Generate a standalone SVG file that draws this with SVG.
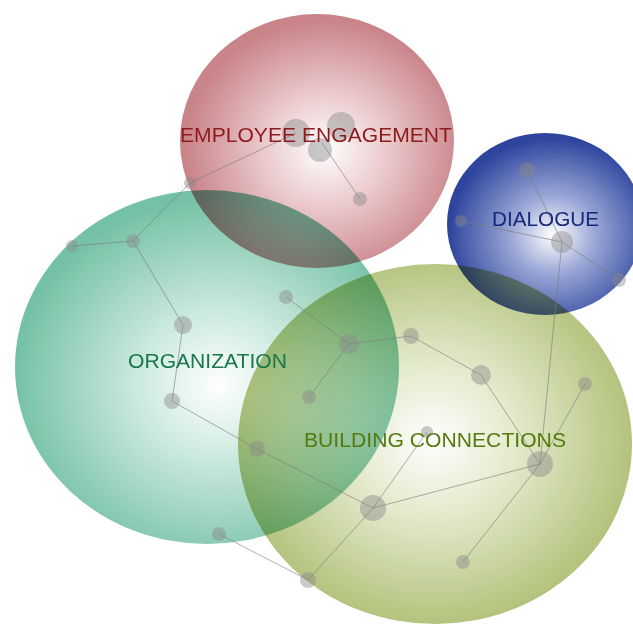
<svg xmlns="http://www.w3.org/2000/svg" width="633" height="624" viewBox="0 0 633 624">
<defs>
<radialGradient id="gRed" gradientUnits="userSpaceOnUse" cx="325" cy="150" r="140" fx="325" fy="150" gradientTransform="translate(325 150) scale(1 0.93) translate(-325 -150)">
<stop offset="0" stop-color="#ffffff"/>
<stop offset="0.4" stop-color="#ecccce"/>
<stop offset="1" stop-color="#c67d83"/>
</radialGradient>
<radialGradient id="gOrg" gradientUnits="userSpaceOnUse" cx="218" cy="385" r="205" fx="218" fy="385" gradientTransform="translate(218 385) scale(1 0.92) translate(-218 -385)">
<stop offset="0" stop-color="#ffffff"/>
<stop offset="0.4" stop-color="#c8e8dc"/>
<stop offset="1" stop-color="#6dbea0"/>
</radialGradient>
<radialGradient id="gBld" gradientUnits="userSpaceOnUse" cx="432" cy="440" r="205" fx="432" fy="440" gradientTransform="translate(432 440) scale(1 0.92) translate(-432 -440)">
<stop offset="0" stop-color="#ffffff"/>
<stop offset="0.4" stop-color="#e3e9ca"/>
<stop offset="1" stop-color="#adbe72"/>
</radialGradient>
<radialGradient id="gDlg" gradientUnits="userSpaceOnUse" cx="553" cy="235" r="105" fx="553" fy="235" gradientTransform="translate(553 235) scale(1 0.93) translate(-553 -235)">
<stop offset="0" stop-color="#ffffff"/>
<stop offset="0.4" stop-color="#95a2d4"/>
<stop offset="1" stop-color="#223a98"/>
</radialGradient>
</defs>
<style>
.sphere{opacity:0.95;mix-blend-mode:multiply}
.edge{stroke:#7a7a7a;stroke-width:1;stroke-opacity:0.6;fill:none}
.node{fill:#8a8a8a;fill-opacity:0.45}
.lbl{font-family:"Liberation Sans",Arial,sans-serif;font-size:19.5px;text-anchor:middle}
</style>
<rect width="633" height="624" fill="#ffffff"/>
<g id="employee-engagement">
<ellipse class="sphere" cx="317" cy="141" rx="137" ry="127" fill="url(#gRed)"/>
</g>
<g id="organization">
<ellipse class="sphere" cx="207" cy="367" rx="192" ry="177" fill="url(#gOrg)"/>
</g>
<g id="building-connections">
<ellipse class="sphere" cx="435" cy="444" rx="197" ry="180" fill="url(#gBld)"/>
</g>
<g id="dialogue">
<ellipse class="sphere" cx="545" cy="224" rx="98" ry="91" fill="url(#gDlg)"/>
</g>
<g id="connectors">
<line class="edge" x1="190" y1="183" x2="296" y2="133"/>
<line class="edge" x1="322" y1="143" x2="360" y2="199"/>
<line class="edge" x1="190" y1="183" x2="133" y2="241"/>
<line class="edge" x1="133" y1="241" x2="72" y2="246"/>
<line class="edge" x1="133" y1="241" x2="183" y2="325"/>
<line class="edge" x1="183" y1="325" x2="172" y2="401"/>
<line class="edge" x1="172" y1="401" x2="257" y2="449"/>
<line class="edge" x1="257" y1="449" x2="373" y2="508"/>
<line class="edge" x1="373" y1="508" x2="308" y2="580"/>
<line class="edge" x1="219" y1="534" x2="308" y2="580"/>
<line class="edge" x1="373" y1="508" x2="427" y2="432"/>
<line class="edge" x1="373" y1="508" x2="540" y2="464"/>
<line class="edge" x1="286" y1="297" x2="349" y2="344"/>
<line class="edge" x1="349" y1="344" x2="411" y2="336"/>
<line class="edge" x1="349" y1="344" x2="309" y2="397"/>
<line class="edge" x1="411" y1="336" x2="481" y2="375"/>
<line class="edge" x1="481" y1="375" x2="540" y2="464"/>
<line class="edge" x1="540" y1="464" x2="585" y2="384"/>
<line class="edge" x1="540" y1="464" x2="463" y2="562"/>
<line class="edge" x1="540" y1="464" x2="562" y2="242"/>
<line class="edge" x1="527" y1="170" x2="562" y2="242"/>
<line class="edge" x1="461" y1="221" x2="562" y2="242"/>
<line class="edge" x1="562" y1="242" x2="619" y2="280"/>
<circle class="node" cx="296" cy="133" r="14"/>
<circle class="node" cx="341" cy="126" r="14"/>
<circle class="node" cx="320" cy="150" r="12"/>
<circle class="node" cx="360" cy="199" r="7"/>
<circle class="node" cx="190" cy="183" r="6"/>
<circle class="node" cx="133" cy="241" r="7"/>
<circle class="node" cx="72" cy="246" r="6"/>
<circle class="node" cx="183" cy="325" r="9"/>
<circle class="node" cx="172" cy="401" r="8"/>
<circle class="node" cx="257" cy="449" r="8"/>
<circle class="node" cx="373" cy="508" r="13"/>
<circle class="node" cx="308" cy="580" r="8"/>
<circle class="node" cx="219" cy="534" r="7"/>
<circle class="node" cx="286" cy="297" r="7"/>
<circle class="node" cx="349" cy="344" r="10"/>
<circle class="node" cx="411" cy="336" r="8"/>
<circle class="node" cx="481" cy="375" r="10"/>
<circle class="node" cx="540" cy="464" r="13"/>
<circle class="node" cx="585" cy="384" r="7"/>
<circle class="node" cx="463" cy="562" r="7"/>
<circle class="node" cx="309" cy="397" r="7"/>
<circle class="node" cx="427" cy="432" r="6" fill-opacity="0.25"/>
<circle class="node" cx="527" cy="170" r="8"/>
<circle class="node" cx="461" cy="221" r="6"/>
<circle class="node" cx="562" cy="242" r="11"/>
<circle class="node" cx="619" cy="280" r="7"/>
</g>
<g id="labels">
<text class="lbl" x="316" y="142" fill="#8e1a1e" textLength="272" lengthAdjust="spacingAndGlyphs">EMPLOYEE ENGAGEMENT</text>
<text class="lbl" x="545.5" y="226" fill="#15287a" textLength="107" lengthAdjust="spacingAndGlyphs">DIALOGUE</text>
<text class="lbl" x="207.5" y="368" fill="#17784a" textLength="159" lengthAdjust="spacingAndGlyphs">ORGANIZATION</text>
<text class="lbl" x="435" y="447" fill="#557a0e" textLength="262" lengthAdjust="spacingAndGlyphs">BUILDING CONNECTIONS</text>
</g>
</svg>
